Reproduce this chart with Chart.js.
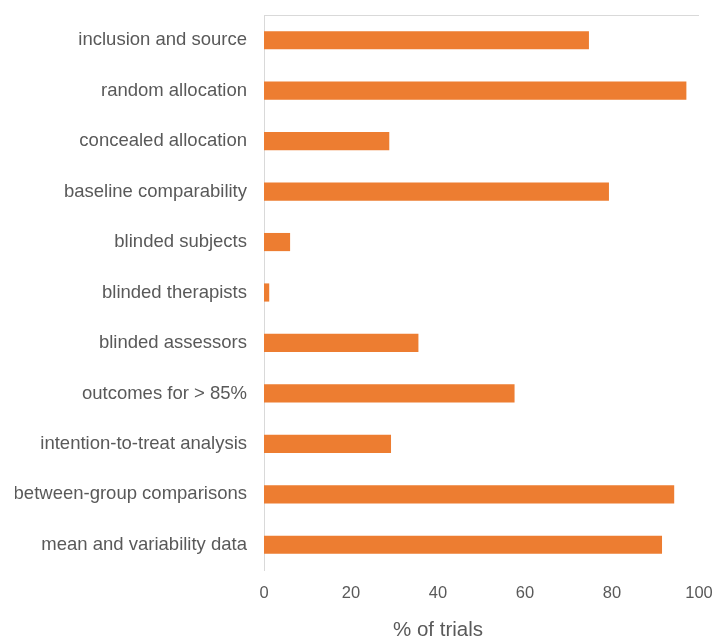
<!DOCTYPE html>
<html>
<head>
<meta charset="utf-8">
<script src="https://cdn.jsdelivr.net/npm/chart.js@4/dist/chart.umd.min.js"></script>
<style>
  html, body { margin: 0; padding: 0; background: #fff; }
  #wrap { width: 717px; height: 640px; }
</style>
</head>
<body>
<div id="wrap"><canvas id="chart"></canvas></div>
<script>
const categories = [
    'inclusion and source',
    'random allocation',
    'concealed allocation',
    'baseline comparability',
    'blinded subjects',
    'blinded therapists',
    'blinded assessors',
    'outcomes for > 85%',
    'intention-to-treat analysis',
    'between-group comparisons',
    'mean and variability data'
];
const percentTrials = [74.7, 97.1, 28.8, 79.3, 6.0, 1.2, 35.5, 57.6, 29.2, 94.3, 91.5];
const xTicks = [0, 20, 40, 60, 80, 100];
const xTitle = '% of trials';

// thin frame line along the top of the plot area + axis title (sits left of plot centre)
const frameAndTitle = {
    id: 'frameAndTitle',
    afterDraw(chart) {
        const { ctx, chartArea } = chart;
        ctx.save();
        ctx.strokeStyle = '#d9d9d9';
        ctx.lineWidth = 1;
        ctx.beginPath();
        ctx.moveTo(chartArea.left, chartArea.top + 0.5);
        ctx.lineTo(chartArea.right, chartArea.top + 0.5);
        ctx.stroke();

        ctx.fillStyle = '#595959';
        ctx.font = '20.5px "Liberation Sans", Arial, sans-serif';
        ctx.textAlign = 'center';
        ctx.textBaseline = 'middle';
        ctx.fillText(xTitle, chartArea.left + 174, chart.height - 10);
        ctx.restore();
    }
};

const ctx = document.getElementById('chart').getContext('2d');
new Chart(ctx, {
    type: 'bar',
    data: {
        labels: categories,
        datasets: [{
            label: xTitle,
            data: percentTrials,
            backgroundColor: '#ED7D31',
            barPercentage: 0.9,
            categoryPercentage: 0.4
        }]
    },
    options: {
        indexAxis: 'y',
        responsive: true,
        maintainAspectRatio: false,
        animation: false,
        layout: { padding: { top: 15, right: 18, left: 15, bottom: 0 } },
        plugins: {
            legend: { display: false },
            tooltip: { enabled: false }
        },
        scales: {
            x: {
                min: 0,
                max: 100,
                afterBuildTicks: (axis) => { axis.ticks = xTicks.map(v => ({ value: v })); },
                afterFit: (axis) => {
                    axis.height = 70;
                    axis.paddingLeft = 0;
                    axis.paddingRight = 0;
                },
                grid: { display: false, drawTicks: false },
                border: { display: false },
                ticks: {
                    color: '#595959',
                    padding: 14,
                    font: { family: 'Liberation Sans, Arial, sans-serif', size: 16.5 }
                }
            },
            y: {
                afterFit: (axis) => {
                    axis.width = 249;
                    axis.paddingTop = 0;
                    axis.paddingBottom = 0;
                },
                grid: { display: false, drawTicks: false },
                border: { display: true, color: '#d9d9d9', width: 1 },
                ticks: {
                    color: '#595959',
                    padding: 17,
                    font: { family: 'Liberation Sans, Arial, sans-serif', size: 18.5 }
                }
            }
        }
    },
    plugins: [frameAndTitle]
});
</script>
</body>
</html>
